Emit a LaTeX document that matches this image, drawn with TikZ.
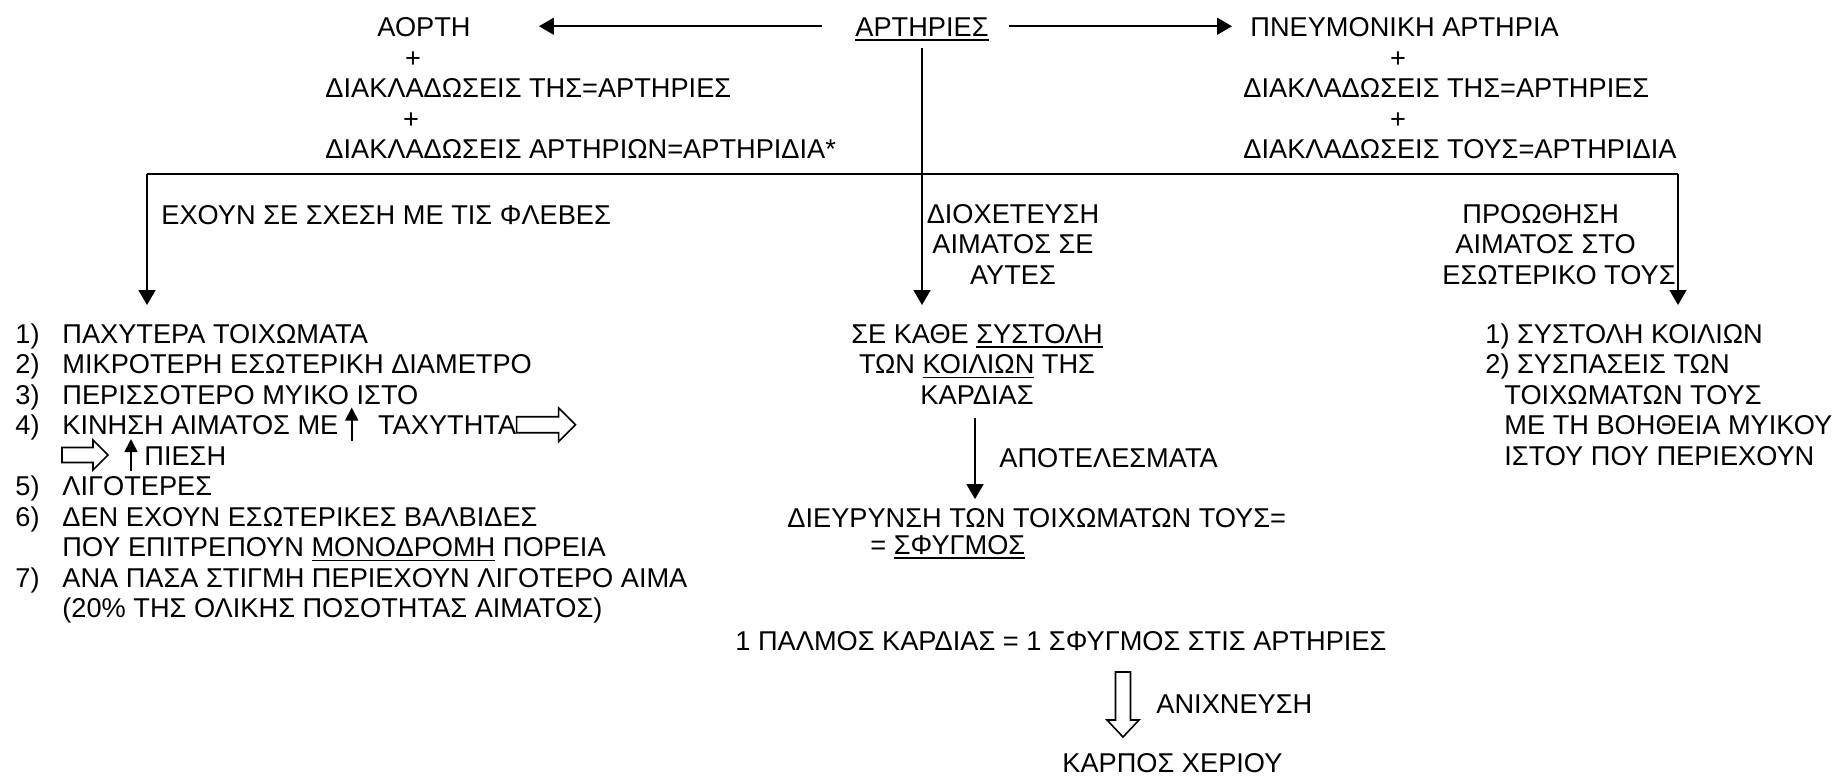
\documentclass[tikz,border=0pt]{standalone}
\usepackage{fontspec}
\setmainfont{Liberation Sans}
\usetikzlibrary{arrows.meta, calc, positioning}
\newcommand\ulin[1]{\setbox0\hbox{#1}\rlap{\rule[-2.4pt]{\wd0}{0.8pt}}\box0\relax}
\tikzset{
  txt/.style={inner sep=0pt, text height=9.75pt, text depth=0pt, font=\fontsize{13.6}{16}\selectfont},
  arr/.style={line width=0.9pt, -{Triangle[width=8.5pt,length=7.5pt]}},
  uparr/.style={line width=0.9pt, -{Triangle[width=6.5pt,length=6.5pt]}},
  hollow/.style={draw, line width=0.8pt, line join=miter},
}
\begin{document}
\begin{tikzpicture}[x=0.5pt, y=-0.5pt]
  \def\rowa{343}
  \def\pitch{30.5}
  \useasboundingbox (0,0) rectangle (1840,776);
  % top row
  \node[txt, anchor=base] (artir) at (922,36) {\ulin{ΑΡΤΗΡΙΕΣ}};
  \node[txt, anchor=base west] (aorti) at (377,36) {ΑΟΡΤΗ};
  \node[txt, anchor=base] (plusa) at (413,67) {+};
  \node[txt, anchor=base west] (aklad) at (325,97) {ΔΙΑΚΛΑΔΩΣΕΙΣ ΤΗΣ=ΑΡΤΗΡΙΕΣ};
  \node[txt, anchor=base] (plusb) at (411,128) {+};
  \node[txt, anchor=base west] (aarti) at (325,158) {ΔΙΑΚΛΑΔΩΣΕΙΣ ΑΡΤΗΡΙΩΝ=ΑΡΤΗΡΙΔΙΑ*};
  \node[txt, anchor=base west] (pneum) at (1250,36) {ΠΝΕΥΜΟΝΙΚΗ ΑΡΤΗΡΙΑ};
  \node[txt, anchor=base] (plusc) at (1398,67) {+};
  \node[txt, anchor=base west] (pklad) at (1243,97) {ΔΙΑΚΛΑΔΩΣΕΙΣ ΤΗΣ=ΑΡΤΗΡΙΕΣ};
  \node[txt, anchor=base] (plusd) at (1398,128) {+};
  \node[txt, anchor=base west] (parti) at (1243,158) {ΔΙΑΚΛΑΔΩΣΕΙΣ ΤΟΥΣ=ΑΡΤΗΡΙΔΙΑ};
  \draw[arr, shorten <=16.5pt, shorten >=34pt] (artir.west) -- (aorti.east);
  \draw[arr, shorten <=10pt, shorten >=9pt] (artir.east) -- (pneum.west);
  % branches
  \coordinate (jl) at (147,174);
  \coordinate (jr) at (1678,174);
  \coordinate (tipl) at (147,305);
  \draw[line width=0.9pt] (jl) -- (jr);
  \draw[arr] (jl) -- (tipl);
  \draw[arr, shorten <=6pt] (artir.south) -- (artir.south |- tipl);
  \draw[arr] (jr) -- (jr |- tipl);
  \node[txt, anchor=base west] (exoun) at (161,224) {ΕΧΟΥΝ ΣΕ ΣΧΕΣΗ ΜΕ ΤΙΣ ΦΛΕΒΕΣ};
  \node[txt, anchor=base] (dioa) at (1013,223) {ΔΙΟΧΕΤΕΥΣΗ};
  \node[txt, anchor=base] (diob) at (1013,253.5) {ΑΙΜΑΤΟΣ ΣΕ};
  \node[txt, anchor=base] (dioc) at (1013,284) {ΑΥΤΕΣ};
  \node[txt, anchor=base west] (proa) at (1462,223) {ΠΡΟΩΘΗΣΗ};
  \node[txt, anchor=base west] (prob) at (1455,253.5) {ΑΙΜΑΤΟΣ ΣΤΟ};
  \node[txt, anchor=base west] (proc) at (1442,284) {ΕΣΩΤΕΡΙΚΟ ΤΟΥΣ};
  % left list
  \node[txt, anchor=base west] (n1) at (15,\rowa) {1)};
  \node[txt, anchor=base west] (t1) at (62,\rowa) {ΠΑΧΥΤΕΡΑ ΤΟΙΧΩΜΑΤΑ};
  \node[txt, anchor=base west] (n2) at (15,{\rowa+\pitch}) {2)};
  \node[txt, anchor=base west] (t2) at (62,{\rowa+\pitch}) {ΜΙΚΡΟΤΕΡΗ ΕΣΩΤΕΡΙΚΗ ΔΙΑΜΕΤΡΟ};
  \node[txt, anchor=base west] (n3) at (15,{\rowa+2*\pitch}) {3)};
  \node[txt, anchor=base west] (t3) at (62,{\rowa+2*\pitch}) {ΠΕΡΙΣΣΟΤΕΡΟ ΜΥΙΚΟ ΙΣΤΟ};
  \node[txt, anchor=base west] (n4) at (15,{\rowa+3*\pitch}) {4)};
  \node[txt, anchor=base west] (t4a) at (62,{\rowa+3*\pitch}) {ΚΙΝΗΣΗ ΑΙΜΑΤΟΣ ΜΕ};
  \node[txt, right=19.5pt of t4a] (t4b) {ΤΑΧΥΤΗΤΑ};
  \node[txt, anchor=base west] (t4c) at (144,{\rowa+4*\pitch}) {ΠΙΕΣΗ};
  \node[txt, anchor=base west] (n5) at (15,{\rowa+5*\pitch}) {5)};
  \node[txt, anchor=base west] (t5) at (62,{\rowa+5*\pitch}) {ΛΙΓΟΤΕΡΕΣ};
  \node[txt, anchor=base west] (n6) at (15,{\rowa+6*\pitch}) {6)};
  \node[txt, anchor=base west] (t6a) at (62,{\rowa+6*\pitch}) {ΔΕΝ ΕΧΟΥΝ ΕΣΩΤΕΡΙΚΕΣ ΒΑΛΒΙΔΕΣ};
  \node[txt, anchor=base west] (t6b) at (62,{\rowa+7*\pitch}) {ΠΟΥ ΕΠΙΤΡΕΠΟΥΝ \ulin{ΜΟΝΟΔΡΟΜΗ} ΠΟΡΕΙΑ};
  \node[txt, anchor=base west] (n7) at (15,{\rowa+8*\pitch}) {7)};
  \node[txt, anchor=base west] (t7a) at (62,{\rowa+8*\pitch}) {ΑΝΑ ΠΑΣΑ ΣΤΙΓΜΗ ΠΕΡΙΕΧΟΥΝ ΛΙΓΟΤΕΡΟ ΑΙΜΑ};
  \node[txt, anchor=base west] (t7b) at (62,{\rowa+9*\pitch}) {(20\% ΤΗΣ ΟΛΙΚΗΣ ΠΟΣΟΤΗΤΑΣ ΑΙΜΑΤΟΣ)};
  \draw[uparr] ($(t4a.base east)+(13,6)$) -- ++(0,-33);
  \draw[uparr] ($(t4c.base west)+(-13,6)$) -- ++(0,-32);
  \draw[hollow, shift={(t4b.east)}] (0,-8) -- (42,-8) -- (42,-17) -- (59,0) -- (42,17) -- (42,8) -- (0,8) -- cycle;
  \coordinate (hb) at (62,{\rowa+4*\pitch-10});
  \draw[hollow, shift={(hb)}] (0,-7.5) -- (31,-7.5) -- (31,-15) -- (46,0) -- (31,15) -- (31,7.5) -- (0,7.5) -- cycle;
  % middle column
  \node[txt, anchor=base] (kath) at (977,\rowa) {ΣΕ ΚΑΘΕ \ulin{ΣΥΣΤΟΛΗ}};
  \node[txt, anchor=base] (kaa) at (977,{\rowa+\pitch}) {ΤΩΝ \ulin{ΚΟΙΛΙΩΝ} ΤΗΣ};
  \node[txt, anchor=base] (kab) at (977,{\rowa+2*\pitch}) {ΚΑΡΔΙΑΣ};
  \node[txt, anchor=base west] (apot) at (999,467) {ΑΠΟΤΕΛΕΣΜΑΤΑ};
  \node[txt, anchor=base west] (dieur) at (787,527) {ΔΙΕΥΡΥΝΣΗ ΤΩΝ ΤΟΙΧΩΜΑΤΩΝ ΤΟΥΣ=};
  \node[txt, anchor=base west] (sfyg) at (870,554) {= \ulin{ΣΦΥΓΜΟΣ}};
  \draw[arr, shorten <=7pt, shorten >=4pt] ([xshift=-1pt]kab.south) -- ([xshift=-1pt]kab.south |- dieur.north);
  \node[txt, anchor=base west] (palm) at (735,650) {1 ΠΑΛΜΟΣ ΚΑΡΔΙΑΣ = 1 ΣΦΥΓΜΟΣ ΣΤΙΣ ΑΡΤΗΡΙΕΣ};
  \node[txt, anchor=base west] (anix) at (1156,713) {ΑΝΙΧΝΕΥΣΗ};
  \node[txt, anchor=base west] (karp) at (1062,772) {ΚΑΡΠΟΣ ΧΕΡΙΟΥ};
  \coordinate (hd) at (1123,672);
  \draw[hollow, shift={(hd)}] (-7.5,0) -- (7.5,0) -- (7.5,48) -- (16,48) -- (0,65) -- (-16,48) -- (-7.5,48) -- cycle;
  % right list
  \node[txt, anchor=base west] (r1) at (1485,\rowa) {1) ΣΥΣΤΟΛΗ ΚΟΙΛΙΩΝ};
  \node[txt, anchor=base west] (r2) at (1485,{\rowa+\pitch}) {2) ΣΥΣΠΑΣΕΙΣ ΤΩΝ};
  \node[txt, anchor=base west] (r3) at (1504,{\rowa+2*\pitch}) {ΤΟΙΧΩΜΑΤΩΝ ΤΟΥΣ};
  \node[txt, anchor=base west] (r4) at (1504,{\rowa+3*\pitch}) {ΜΕ ΤΗ ΒΟΗΘΕΙΑ ΜΥΙΚΟΥ};
  \node[txt, anchor=base west] (r5) at (1504,{\rowa+4*\pitch}) {ΙΣΤΟΥ ΠΟΥ ΠΕΡΙΕΧΟΥΝ};
\end{tikzpicture}
\end{document}
